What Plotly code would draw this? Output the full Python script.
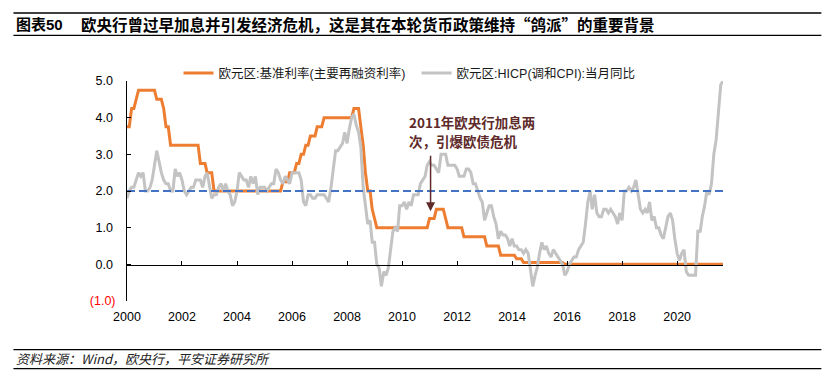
import pandas as pd
import plotly.graph_objects as go

# ---------------- data (monthly, Apr 2000 - Dec 2021) ----------------
start_month = "2000-04-01"
end_month = "2021-12-01"

# Euro area main refinancing rate (%), by calendar year
rate_2000 = [3.75, 3.75, 4.25, 4.25, 4.50, 4.75, 4.75, 4.75, 4.75]
rate_2001 = [4.75, 4.75, 4.75, 4.75, 4.50, 4.50, 4.50, 4.25, 3.75, 3.75, 3.25, 3.25]
rate_2002 = [3.25, 3.25, 3.25, 3.25, 3.25, 3.25, 3.25, 3.25, 3.25, 3.25, 3.25, 2.75]
rate_2003 = [2.75, 2.75, 2.50, 2.50, 2.50, 2.00, 2.00, 2.00, 2.00, 2.00, 2.00, 2.00]
rate_2004 = [2.00, 2.00, 2.00, 2.00, 2.00, 2.00, 2.00, 2.00, 2.00, 2.00, 2.00, 2.00]
rate_2005 = [2.00, 2.00, 2.00, 2.00, 2.00, 2.00, 2.00, 2.00, 2.00, 2.00, 2.00, 2.25]
rate_2006 = [2.25, 2.25, 2.50, 2.50, 2.50, 2.75, 2.75, 3.00, 3.00, 3.25, 3.25, 3.50]
rate_2007 = [3.50, 3.50, 3.75, 3.75, 3.75, 4.00, 4.00, 4.00, 4.00, 4.00, 4.00, 4.00]
rate_2008 = [4.00, 4.00, 4.00, 4.00, 4.00, 4.00, 4.25, 4.25, 4.25, 3.75, 3.25, 2.50]
rate_2009 = [2.00, 2.00, 1.50, 1.25, 1.00, 1.00, 1.00, 1.00, 1.00, 1.00, 1.00, 1.00]
rate_2010 = [1.00, 1.00, 1.00, 1.00, 1.00, 1.00, 1.00, 1.00, 1.00, 1.00, 1.00, 1.00]
rate_2011 = [1.00, 1.00, 1.00, 1.25, 1.25, 1.25, 1.50, 1.50, 1.50, 1.50, 1.25, 1.00]
rate_2012 = [1.00, 1.00, 1.00, 1.00, 1.00, 1.00, 0.75, 0.75, 0.75, 0.75, 0.75, 0.75]
rate_2013 = [0.75, 0.75, 0.75, 0.75, 0.50, 0.50, 0.50, 0.50, 0.50, 0.50, 0.25, 0.25]
rate_2014 = [0.25, 0.25, 0.25, 0.25, 0.25, 0.15, 0.15, 0.15, 0.05, 0.05, 0.05, 0.05]
rate_2015 = [0.05, 0.05, 0.05, 0.05, 0.05, 0.05, 0.05, 0.05, 0.05, 0.05, 0.05, 0.05]
rate_2016 = [0.05, 0.05, 0.00, 0.00, 0.00, 0.00, 0.00, 0.00, 0.00, 0.00, 0.00, 0.00]
rate_2017 = [0.00, 0.00, 0.00, 0.00, 0.00, 0.00, 0.00, 0.00, 0.00, 0.00, 0.00, 0.00]
rate_2018 = [0.00, 0.00, 0.00, 0.00, 0.00, 0.00, 0.00, 0.00, 0.00, 0.00, 0.00, 0.00]
rate_2019 = [0.00, 0.00, 0.00, 0.00, 0.00, 0.00, 0.00, 0.00, 0.00, 0.00, 0.00, 0.00]
rate_2020 = [0.00, 0.00, 0.00, 0.00, 0.00, 0.00, 0.00, 0.00, 0.00, 0.00, 0.00, 0.00]
rate_2021 = [0.00, 0.00, 0.00, 0.00, 0.00, 0.00, 0.00, 0.00, 0.00, 0.00, 0.00, 0.00]

# Euro area HICP, y/y (%), by calendar year
hicp_2000 = [1.8, 2.0, 2.1, 2.1, 2.3, 2.5, 2.4, 2.5, 2.0]
hicp_2001 = [2.0, 2.1, 2.3, 2.7, 3.1, 2.8, 2.5, 2.3, 2.2, 2.2, 2.0, 2.0]
hicp_2002 = [2.6, 2.4, 2.5, 2.3, 2.0, 1.9, 2.0, 2.1, 2.1, 2.3, 2.3, 2.3]
hicp_2003 = [2.1, 2.4, 2.5, 2.1, 1.8, 1.9, 1.9, 2.1, 2.2, 2.0, 2.2, 2.0]
hicp_2004 = [1.9, 1.6, 1.7, 2.0, 2.5, 2.4, 2.3, 2.3, 2.1, 2.4, 2.2, 2.4]
hicp_2005 = [1.9, 2.1, 2.1, 2.1, 2.0, 2.1, 2.2, 2.2, 2.6, 2.5, 2.3, 2.2]
hicp_2006 = [2.4, 2.3, 2.2, 2.5, 2.5, 2.5, 2.5, 2.3, 1.7, 1.6, 1.9, 1.9]
hicp_2007 = [1.8, 1.8, 1.9, 1.9, 1.9, 1.9, 1.8, 1.7, 2.1, 2.6, 3.1, 3.1]
hicp_2008 = [3.2, 3.3, 3.6, 3.3, 3.7, 4.0, 4.1, 3.8, 3.6, 3.2, 2.1, 1.6]
hicp_2009 = [1.1, 1.2, 0.6, 0.6, 0.0, -0.1, -0.6, -0.2, -0.3, -0.1, 0.5, 0.9]
hicp_2010 = [1.0, 0.9, 1.6, 1.6, 1.7, 1.5, 1.7, 1.6, 1.9, 1.9, 1.9, 2.2]
hicp_2011 = [2.3, 2.4, 2.7, 2.8, 2.7, 2.7, 2.6, 2.5, 3.0, 3.0, 3.0, 2.7]
hicp_2012 = [2.7, 2.7, 2.7, 2.6, 2.4, 2.4, 2.4, 2.6, 2.6, 2.5, 2.2, 2.2]
hicp_2013 = [2.0, 1.8, 1.7, 1.2, 1.4, 1.6, 1.6, 1.3, 1.1, 0.7, 0.9, 0.8]
hicp_2014 = [0.8, 0.7, 0.5, 0.7, 0.5, 0.5, 0.4, 0.4, 0.3, 0.4, 0.3, -0.2]
hicp_2015 = [-0.6, -0.3, -0.1, 0.3, 0.6, 0.4, 0.5, 0.3, 0.2, 0.4, 0.3, 0.2]
hicp_2016 = [0.1, 0.0, -0.3, -0.2, 0.0, 0.1, 0.2, 0.2, 0.4, 0.5, 0.6, 1.1]
hicp_2017 = [1.7, 2.0, 1.5, 1.9, 1.4, 1.3, 1.3, 1.5, 1.5, 1.4, 1.5, 1.4]
hicp_2018 = [1.3, 1.1, 1.4, 1.2, 2.0, 2.0, 2.1, 2.0, 2.1, 2.3, 1.9, 1.5]
hicp_2019 = [1.4, 1.5, 1.4, 1.7, 1.2, 1.3, 1.0, 1.0, 0.8, 0.7, 1.0, 1.3]
hicp_2020 = [1.4, 1.2, 0.7, 0.3, 0.1, 0.3, 0.4, -0.2, -0.3, -0.3, -0.3, -0.3]
hicp_2021 = [0.9, 0.9, 1.3, 1.6, 2.0, 1.9, 2.2, 3.0, 3.4, 4.1, 4.9, 5.0]

target_rate = 2.0  # ECB inflation target (dashed line)

tick_dates = ["2000-04-01", "2002-04-01", "2004-04-01", "2006-04-01", "2008-04-01",
              "2010-04-01", "2012-04-01", "2014-04-01", "2016-04-01", "2018-04-01",
              "2020-04-01"]
tick_labels = ["2000", "2002", "2004", "2006", "2008", "2010", "2012", "2014",
               "2016", "2018", "2020"]
y_ticks = [-1, 0, 1, 2, 3, 4, 5]
y_tick_labels = ["(1.0)", "0.0", "1.0", "2.0", "3.0", "4.0", "5.0"]

name_rate = "欧元区:基准利率(主要再融资利率)"
name_hicp = "欧元区:HICP(调和CPI):当月同比"
title_no = "图表50"
title_text = "欧央行曾过早加息并引发经济危机，这是其在本轮货币政策维持“鸽派”的重要背景"
source_text = "资料来源：Wind，欧央行，平安证券研究所"
note_lines = ["2011年欧央行加息两", "次，引爆欧债危机"]
note_arrow_date = "2011-04-15"
note_arrow_head = 1.45
note_arrow_tail = 3.0

# ---------------- build series ----------------
rate = (rate_2000 + rate_2001 + rate_2002 + rate_2003 + rate_2004 + rate_2005 + rate_2006 +
        rate_2007 + rate_2008 + rate_2009 + rate_2010 + rate_2011 + rate_2012 + rate_2013 +
        rate_2014 + rate_2015 + rate_2016 + rate_2017 + rate_2018 + rate_2019 + rate_2020 +
        rate_2021)
hicp = (hicp_2000 + hicp_2001 + hicp_2002 + hicp_2003 + hicp_2004 + hicp_2005 + hicp_2006 +
        hicp_2007 + hicp_2008 + hicp_2009 + hicp_2010 + hicp_2011 + hicp_2012 + hicp_2013 +
        hicp_2014 + hicp_2015 + hicp_2016 + hicp_2017 + hicp_2018 + hicp_2019 + hicp_2020 +
        hicp_2021)
dates = pd.date_range(start_month, end_month, freq="MS")
assert len(dates) == len(rate) == len(hicp)

# ---------------- layout geometry ----------------
W, H = 839, 389
L, R, T, B = 126.7, 115.5, 80.7, 88.3
PW, PH = W - L - R, H - T - B


def px_x(px):
    return (px - L) / PW


def px_y(py):
    return (H - B - py) / PH


LATIN = "Liberation Sans, Arial, Noto Sans CJK SC, sans-serif"
CJK = "Noto Sans CJK SC, Liberation Sans, sans-serif"

fig = go.Figure()
fig.add_trace(go.Scatter(x=dates, y=rate, mode="lines", name=name_rate + "\u2002",
                         line=dict(color="#ED7D31", width=3)))
fig.add_trace(go.Scatter(x=dates, y=hicp, mode="lines", name=name_hicp,
                         line=dict(color="#C3C3C3", width=3)))
fig.add_trace(go.Scatter(x=[dates[0], dates[-1]], y=[target_rate, target_rate],
                         mode="lines", showlegend=False, xaxis="x2",
                         line=dict(color="#4472C4", width=2, dash="8px,4px")))

x_range = [dates[0], dates[-1]]
ytext = []
for v, t in zip(y_ticks, y_tick_labels):
    if v < 0:
        ytext.append('<span style="color:#FF0000">' + t + '</span>')
    else:
        ytext.append(t + "\u2009")

fig.update_layout(
    width=W, height=H,
    margin=dict(l=L, r=R, t=T, b=B, pad=0, autoexpand=False),
    paper_bgcolor="white", plot_bgcolor="white",
    font=dict(family=LATIN, size=12.5, color="#000000"),
    showlegend=True,
    legend=dict(orientation="h", xref="container", yref="container",
                x=178.5 / W, y=1 - 73.3 / H, xanchor="left", yanchor="middle",
                font=dict(family=LATIN, size=12.5, color="#1a1a1a"),
                bgcolor="rgba(0,0,0,0)", borderwidth=0, itemwidth=30),
    xaxis=dict(type="date", range=x_range, showline=False, showgrid=False,
               zeroline=False, ticks="", tickmode="array", tickvals=tick_dates,
               ticktext=tick_labels, ticklabelstandoff=6,
               tickfont=dict(family=LATIN, size=12.5, color="#000000")),
    xaxis2=dict(type="date", range=x_range, overlaying="x", anchor="free",
                position=px_y(264.3), showline=True, linecolor="#000000",
                linewidth=1, showgrid=False, zeroline=False, ticks="inside",
                ticklen=4, tickwidth=1, tickcolor="#000000", tickmode="array",
                tickvals=tick_dates, showticklabels=False),
    yaxis=dict(range=[-1, 5], showline=True, linecolor="#000000", linewidth=1,
               showgrid=False, zeroline=False, ticks="inside", ticklen=4,
               tickcolor="#000000", tickmode="array", tickvals=y_ticks,
               ticktext=ytext, ticklabelstandoff=8,
               tickfont=dict(family=LATIN, size=12.5, color="#000000")),
)

# title / footer rules
for py, wdt in [(12.7, 1.4), (35.0, 1.3), (349.3, 1.3), (368.3, 1.3)]:
    fig.add_shape(type="line", xref="paper", yref="paper",
                  x0=px_x(13), x1=px_x(822), y0=px_y(py), y1=px_y(py),
                  line=dict(color="#000000", width=wdt))

fig.add_annotation(text="<b>" + title_no + "</b>", xref="paper", yref="paper",
                   x=px_x(14), y=px_y(24), xanchor="left", yanchor="middle",
                   showarrow=False, font=dict(family=LATIN, size=15, color="#000000"))
fig.add_annotation(text="<b>" + title_text + "</b>", xref="paper", yref="paper",
                   x=px_x(79), y=px_y(24), xanchor="left", yanchor="middle",
                   showarrow=False, font=dict(family=CJK, size=15.5, color="#000000"))
fig.add_annotation(text="<i>" + source_text + "</i>", xref="paper", yref="paper",
                   x=px_x(14), y=px_y(358), xanchor="left", yanchor="middle",
                   showarrow=False, font=dict(family=CJK, size=13, color="#222222"))

# annotation text (two lines) + arrow
for line_text, py in zip(note_lines, [121.7, 140.3]):
    fig.add_annotation(text="<b>" + line_text + "</b>", xref="paper", yref="paper",
                       x=px_x(408), y=px_y(py), xanchor="left", yanchor="middle",
                       align="left", showarrow=False, borderpad=0,
                       font=dict(family=CJK, size=13.5, color="#5E2A2A"))
fig.add_annotation(text="", x=note_arrow_date, y=note_arrow_head, xref="x", yref="y",
                   ax=note_arrow_date, ay=note_arrow_tail, axref="x", ayref="y",
                   showarrow=True, arrowhead=2, arrowsize=1.2, arrowwidth=1.5,
                   arrowcolor="#5E2A2A", standoff=0, startstandoff=0)

fig.write_html("out.html", config={"displayModeBar": False},
               post_script="document.body.style.margin='0px';")
